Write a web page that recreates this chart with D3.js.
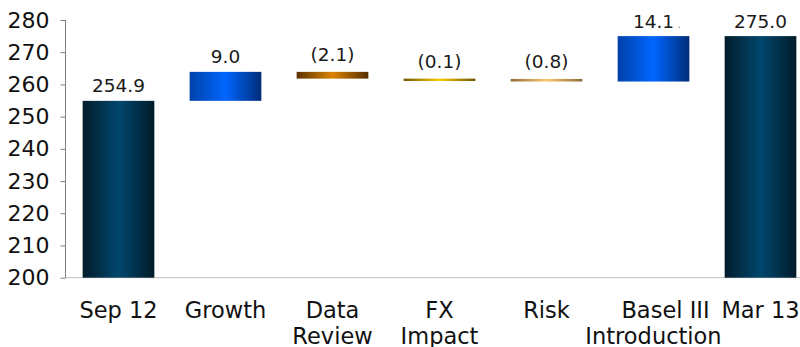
<!DOCTYPE html>
<html>
<head>
<meta charset="utf-8">
<script src="https://cdn.jsdelivr.net/npm/d3@7/dist/d3.min.js"></script>
<style>
  html, body { margin: 0; padding: 0; background: #fff; }
  svg { display: block; font-family: "DejaVu Sans", Verdana, sans-serif; }
</style>
</head>
<body>
<svg id="chart" width="800" height="347"></svg>
<script>
// Capital walk, Sep 12 to Mar 13
const categories = ["Sep 12", "Growth", "Data Review", "FX Impact", "Risk", "Basel III Introduction", "Mar 13"];
const categoryLines = [["Sep 12"], ["Growth"], ["Data", "Review"], ["FX", "Impact"], ["Risk"], ["Basel III", "Introduction"], ["Mar 13"]];
const values = [254.9, 9.0, -2.1, -0.1, -0.8, 14.1, 275.0];
const kinds = ["total", "delta", "delta", "delta", "delta", "delta", "total"];
const fills = ["navy", "blue", "orange", "gold", "sand", "blue", "navy"];
const yTicks = [200, 210, 220, 230, 240, 250, 260, 270, 280];

const svg = d3.select("#chart");

const x = d3.scaleBand()
  .domain(categories)
  .range([65, 814])
  .paddingInner(0.33)
  .paddingOuter(0.165);

const y = d3.scaleLinear()
  .domain([200, 280])
  .range([277.7, 20]);

// Horizontal shading for each bar colour: dark edges, light centre
const palettes = {
  navy:   ["#021c2a", "#00476d", "#021c2a"],
  blue:   ["#0042a8", "#0066ff", "#002c78"],
  orange: ["#5c3100", "#da8400", "#553000"],
  gold:   ["#6e5a00", "#ffcc00", "#6a5600"],
  sand:   ["#8e6c38", "#ffc96e", "#8a6a3a"]
};
const defs = svg.append("defs");
Object.entries(palettes).forEach(([name, stops]) => {
  const g = defs.append("linearGradient")
    .attr("id", "grad-" + name)
    .attr("x1", "0%").attr("x2", "100%").attr("y1", "0%").attr("y2", "0%");
  g.append("stop").attr("offset", "0%").attr("stop-color", stops[0]);
  g.append("stop").attr("offset", "50%").attr("stop-color", stops[1]);
  g.append("stop").attr("offset", "100%").attr("stop-color", stops[2]);
});

// Running level: totals reset it, deltas move it
let level = 0;
const bars = categories.map((c, i) => {
  let start, end;
  if (kinds[i] === "total") { start = 200; end = values[i]; level = values[i]; }
  else { start = level; end = level + values[i]; level = end; }
  return { c, i, v: values[i], kind: kinds[i], fill: fills[i], lo: Math.min(start, end), hi: Math.max(start, end) };
});

// x axis baseline
svg.append("line")
  .attr("x1", 65).attr("x2", 800)
  .attr("y1", y(200)).attr("y2", y(200))
  .attr("stroke", "#c0c0c0").attr("stroke-width", 1);

// bars
svg.append("g").selectAll("rect")
  .data(bars)
  .join("rect")
  .attr("x", d => x(d.c))
  .attr("width", x.bandwidth())
  .attr("y", d => y(d.hi))
  .attr("height", d => Math.max(y(d.lo) - y(d.hi), 2.4))
  .attr("fill", d => "url(#grad-" + d.fill + ")");

// y axis
const yAxis = d3.axisLeft(y)
  .tickValues(yTicks)
  .tickSize(5)
  .tickPadding(11)
  .tickFormat(d3.format("d"));
const ya = svg.append("g")
  .attr("transform", "translate(65.5,0)")
  .call(yAxis);
ya.select(".domain").attr("stroke", "#808080").attr("d", "M0," + y(280) + "V" + y(200));
ya.selectAll(".tick line").attr("stroke", "#808080");
ya.selectAll(".tick text")
  .attr("fill", "#111")
  .style("font-size", "22px")
  .style("font-family", "'DejaVu Sans', Verdana, sans-serif");

// value labels
const fmt = d3.format(".1f");
const labels = svg.append("g").selectAll("text")
  .data(bars)
  .join("text")
  .attr("x", d => x(d.c) + x.bandwidth() / 2)
  .attr("y", d => y(d.hi) - (d.v < 0 ? 11 : 8.5))
  .attr("text-anchor", "middle")
  .attr("fill", "#1a1a1a")
  .style("font-size", "18.5px")
  .text(d => d.v < 0 ? "(" + fmt(-d.v) + ")" : fmt(d.v));

// stray dot trailing the Basel III label
const basel = bars[5];
svg.append("text")
  .attr("x", x(basel.c) + x.bandwidth() / 2 + 24)
  .attr("y", y(basel.hi) - 8.5)
  .attr("fill", "#777")
  .style("font-size", "10px")
  .text(".");

// category labels
const catG = svg.append("g");
categories.forEach((c, i) => {
  const t = catG.append("text")
    .attr("text-anchor", "middle")
    .attr("fill", "#111")
    .style("font-size", "22.5px");
  categoryLines[i].forEach((line, j) => {
    t.append("tspan")
      .attr("x", x(c) + x.bandwidth() / 2 + (line === "Basel III" ? 12 : 0))
      .attr("y", 318 + j * 25.5)
      .text(line);
  });
});
</script>
</body>
</html>
